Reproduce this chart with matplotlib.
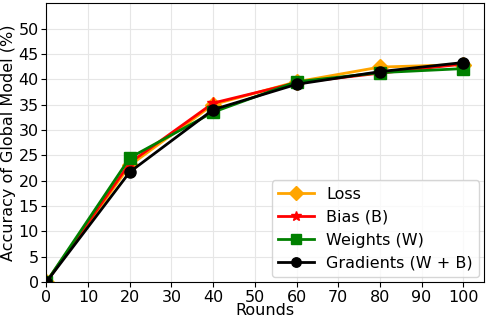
import matplotlib
matplotlib.use("Agg")
import matplotlib.pyplot as plt

rounds = [0, 20, 40, 60, 80, 100]
loss = [0, 23.0, 35.0, 39.5, 42.4, 42.9]
bias = [0, 23.5, 35.3, 39.3, 41.2, 43.0]
weights = [0, 24.5, 33.5, 39.5, 41.3, 42.1]
gradients = [0, 21.7, 34.0, 39.0, 41.5, 43.3]

fig, ax = plt.subplots(figsize=(4.89, 3.24), dpi=100)

ax.plot(rounds, loss, color='orange', marker='D', markersize=8, linewidth=2, label='Loss')
ax.plot(rounds, bias, color='red', marker='*', markersize=9, linewidth=2, label='Bias (B)')
ax.plot(rounds, weights, color='green', marker='s', markersize=8, linewidth=2, label='Weights (W)')
ax.plot(rounds, gradients, color='black', marker='o', markersize=8, linewidth=2, label='Gradients (W + B)')

ax.set_xlim(0, 105)
ax.set_ylim(0, 55)
ax.set_xticks(range(0, 101, 10))
ax.set_yticks(range(0, 51, 5))
ax.tick_params(labelsize=11.5, pad=2)
ax.grid(True, color='#e6e6e6', linewidth=0.8)
ax.set_xlabel('Rounds', fontsize=11.5, labelpad=-1)
ax.set_ylabel('Accuracy of Global Model (%)', fontsize=11.5, labelpad=2)
ax.legend(loc='lower right', fontsize=11.5, handletextpad=0.8, borderpad=0.4,
          labelspacing=0.5, handlelength=2.2, borderaxespad=0.3, markerscale=0.85)

plt.subplots_adjust(left=0.095, right=0.99, top=0.99, bottom=0.13)
plt.savefig('out.png', dpi=100)
